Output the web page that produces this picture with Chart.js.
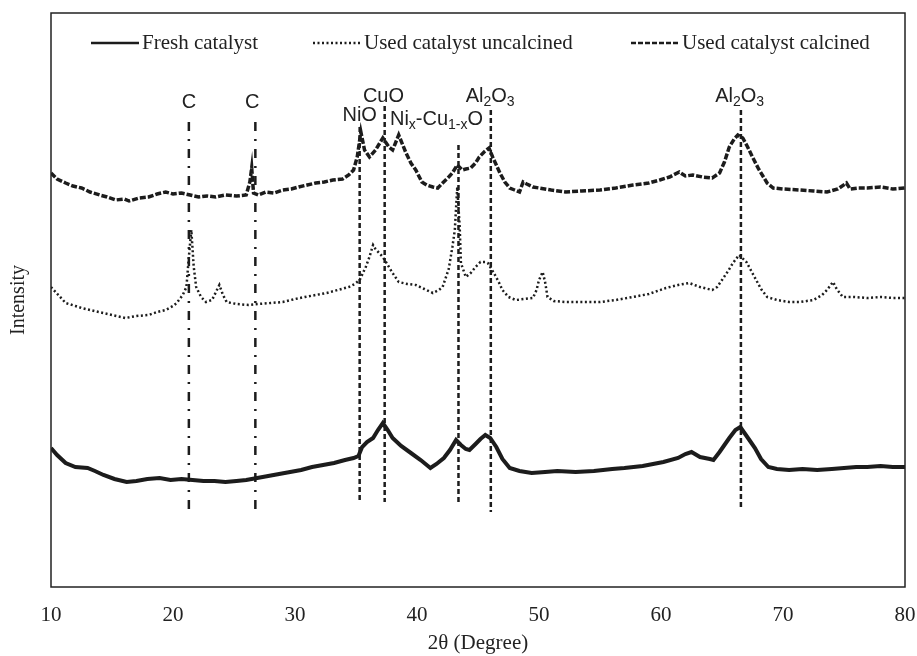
<!DOCTYPE html>
<html>
<head>
  <title>XRD patterns</title>
  <script src="https://cdn.jsdelivr.net/npm/chart.js"></script>
  <style>
    body { margin: 0; background: #fff; }
  </style>
</head>
<body>
<canvas id="xrdChart" width="917" height="656"></canvas>
<script>
  // legend names
  const seriesNames = ['Fresh catalyst', 'Used catalyst uncalcined', 'Used catalyst calcined'];

  // x axis ticks (2theta, degree)
  const xTicks = [10, 20, 30, 40, 50, 60, 70, 80];

  // fresh catalyst (bottom trace)
  const freshX = [10.0, 10.5, 11.2, 12.0, 13.0, 13.6, 14.3, 15.2, 16.2, 17.0, 17.9, 18.9, 19.8, 20.7, 21.6, 22.5, 23.4, 24.3, 25.2, 26.0,
    26.9, 27.8, 28.7, 29.6, 30.5, 31.4, 32.3, 33.2, 34.1, 34.8, 35.2, 35.5, 35.9, 36.4, 36.8, 37.2, 37.6, 38.0, 38.7, 39.5,
    40.3, 41.1, 41.6, 42.2, 42.7, 43.2, 43.6, 44.0, 44.3, 44.8, 45.2, 45.6, 46.0, 46.5, 47.0, 47.6, 48.4, 49.4, 50.5, 51.5,
    53.0, 54.5, 56.0, 57.0, 58.5, 60.2, 61.4, 62.0, 62.5, 63.2, 64.0, 64.3, 64.8, 65.2, 65.6, 66.1, 66.5, 66.9, 67.3, 67.7,
    68.2, 68.8, 69.5, 70.5, 71.6, 72.8, 74.0, 75.0, 76.0, 76.9, 78.0, 79.0, 80.0];
  const freshY = [139, 132, 124, 120, 119, 116, 112, 108, 105, 106, 108, 109, 107, 108, 107, 106, 106, 105, 106, 107,
    109, 111, 113, 115, 117, 120, 122, 124, 127, 129, 131, 140, 145, 149, 157, 164, 157, 149, 141, 134,
    127, 119, 123, 129, 137, 147, 142, 138, 137, 143, 148, 152, 149, 140, 128, 119, 116, 114, 115, 116,
    115, 116, 118, 119, 121, 125, 129, 133, 135, 130, 128, 127, 135, 142, 149, 157, 160, 153, 146, 139,
    128, 120, 118, 117, 118, 117, 118, 119, 120, 120, 121, 120, 120];

  // used catalyst uncalcined (middle trace)
  const uncalX = [10.0, 10.6, 11.2, 12.0, 12.5, 13.2, 13.9, 15.0, 16.1, 17.0, 18.0, 18.7, 19.4, 20.0, 20.3, 20.8, 21.1, 21.3, 21.5, 21.7,
    21.9, 22.3, 22.7, 23.2, 23.8, 24.1, 24.4, 25.2, 26.2, 27.0, 28.0, 29.0, 30.0, 30.8, 31.7, 32.6, 33.5, 34.4, 34.9, 35.3,
    35.8, 36.1, 36.4, 36.6, 36.9, 37.2, 37.5, 38.0, 38.5, 39.2, 39.9, 40.6, 41.3, 41.8, 42.1, 42.6, 42.9, 43.1, 43.3, 43.5,
    43.6, 44.0, 44.4, 44.8, 45.2, 45.6, 45.8, 46.3, 46.7, 47.0, 47.5, 48.1, 48.8, 49.5, 49.8, 50.0, 50.3, 50.5, 50.7, 51.2,
    52.2, 53.5, 55.0, 56.3, 57.7, 59.0, 60.4, 61.4, 62.3, 63.2, 64.2, 64.6, 65.0, 65.5, 65.9, 66.4, 67.0, 67.4, 67.8, 68.2,
    68.7, 69.5, 70.5, 71.4, 72.5, 73.2, 73.6, 74.1, 74.4, 74.9, 75.8, 76.9, 78.0, 79.0, 80.0];
  const uncalY = [300, 292, 284, 281, 279, 277, 275, 272, 269, 271, 272, 275, 277, 281, 284, 292, 300, 330, 357, 320,
    300, 290, 285, 287, 302, 292, 285, 283, 282, 283, 284, 285, 288, 290, 292, 294, 297, 300, 303, 307,
    320, 330, 342, 338, 334, 330, 324, 314, 305, 303, 302, 298, 294, 297, 300, 318, 340, 357, 400, 360,
    324, 310, 314, 320, 325, 325, 324, 314, 305, 297, 290, 287, 288, 289, 297, 307, 315, 305, 290, 286,
    285, 285, 285, 287, 290, 293, 299, 302, 304, 300, 297, 300, 307, 316, 324, 332, 325, 316, 307, 298,
    290, 287, 285, 285, 287, 292, 297, 305, 298, 290, 290, 289, 290, 289, 289];

  // used catalyst calcined (top trace)
  const calcX = [10.0, 10.5, 11.2, 11.8, 12.5, 13.2, 14.0, 14.6, 15.3, 16.0, 16.4, 17.2, 18.0, 18.7, 19.4, 20.0, 20.7, 21.4, 22.1, 22.8,
    23.5, 24.3, 25.2, 26.0, 26.3, 26.45, 26.6, 27.0, 27.6, 28.3, 29.0, 29.7, 30.3, 31.0, 31.7, 32.4, 33.1, 33.9, 34.4, 34.8,
    35.1, 35.4, 35.7, 36.1, 36.6, 37.2, 37.7, 38.0, 38.5, 39.1, 39.5, 39.9, 40.4, 40.8, 41.3, 41.7, 42.1, 42.6, 42.9, 43.3,
    43.7, 44.0, 44.4, 44.8, 45.1, 45.5, 45.9, 46.2, 46.5, 46.8, 47.2, 47.6, 48.0, 48.4, 48.7, 49.0, 49.5, 50.0, 51.0, 52.2,
    53.5, 55.0, 56.3, 57.7, 59.0, 59.9, 60.7, 61.5, 62.0, 62.6, 63.4, 64.2, 64.8, 65.2, 65.6, 66.0, 66.3, 66.7, 67.1, 67.5,
    68.0, 68.7, 69.2, 70.0, 71.4, 72.5, 73.6, 74.5, 75.2, 75.5, 76.2, 76.9, 78.0, 79.0, 80.0];
  const calcY = [414, 408, 404, 401, 399, 395, 392, 390, 387, 388, 386, 389, 390, 393, 395, 393, 394, 392, 390, 391,
    390, 392, 391, 392, 405, 419, 394, 392, 395, 394, 397, 398, 400, 402, 404, 405, 407, 408, 412, 417,
    430, 455, 437, 430, 437, 449, 440, 437, 452, 434, 424, 417, 405, 402, 400, 399, 404, 410, 414, 422,
    417, 418, 419, 424, 430, 435, 439, 430, 422, 414, 405, 399, 397, 395, 405, 403, 400, 399, 397, 395,
    396, 397, 399, 402, 404, 407, 410, 415, 411, 412, 410, 409, 414, 425, 440, 448, 452, 449, 440, 430,
    418, 404, 399, 398, 397, 396, 395, 398, 404, 398, 399, 399, 400, 398, 399];

  // reference lines for the phases
  const refX = [21.3, 26.75, 35.3, 37.35, 43.4, 46.05, 66.55];
  const refTop = [465, 465, 460, 481, 442, 477, 477];
  const refBottom = [70, 70, 85, 85, 85, 75, 79];
  const refDashDot = [true, true, false, false, false, false, false];

  // phase labels (_{..} = subscript)
  const phaseLabels = ['C', 'C', 'NiO', 'CuO', 'Ni_{x}-Cu_{1-x}O', 'Al_{2}O_{3}', 'Al_{2}O_{3}'];
  const labelX = [21.3, 26.5, 35.3, 37.25, 41.6, 46.0, 66.45];
  const labelY = [485, 485, 472, 491, 468, 491, 491];

  function toPoints(xs, ys) {
    return xs.map((x, i) => ({ x: x, y: ys[i] }));
  }

  const ink = '#1c1c1c';

  const datasets = [
    { label: seriesNames[0], data: toPoints(freshX, freshY), borderColor: ink, borderWidth: 4, borderDash: [] },
    { label: seriesNames[1], data: toPoints(uncalX, uncalY), borderColor: ink, borderWidth: 2.5, borderDash: [2, 2.5] },
    { label: seriesNames[2], data: toPoints(calcX, calcY), borderColor: ink, borderWidth: 3.5, borderDash: [6, 2] }
  ];

  refX.forEach((x, i) => {
    datasets.push({
      label: 'ref' + i,
      data: [{ x: x, y: refTop[i] }, { x: x, y: refBottom[i] }],
      borderColor: ink,
      borderWidth: 2.5,
      borderDash: refDashDot[i] ? [9, 8, 2, 8] : [5, 3]
    });
  });

  // box round the plot + legend inside it
  const framePlugin = {
    id: 'frame',
    afterDraw(chart) {
      const { ctx, chartArea: a } = chart;
      ctx.save();
      ctx.strokeStyle = '#222';
      ctx.lineWidth = 1.5;
      ctx.strokeRect(a.left, a.top, a.right - a.left, a.bottom - a.top);

      const starts = [91, 313, 631];
      const y = a.top + 30;
      ctx.font = '21px "Liberation Serif"';
      ctx.textBaseline = 'middle';
      ctx.fillStyle = '#222';
      starts.forEach((sx, i) => {
        const ds = chart.data.datasets[i];
        ctx.beginPath();
        ctx.setLineDash(i === 2 ? [5, 2] : ds.borderDash);
        ctx.lineWidth = 2.5;
        ctx.strokeStyle = ink;
        ctx.moveTo(sx, y);
        ctx.lineTo(sx + 48, y);
        ctx.stroke();
        ctx.setLineDash([]);
        ctx.fillText(ds.label, sx + 51, y);
      });
      ctx.restore();
    }
  };

  const labelPlugin = {
    id: 'phaseLabels',
    afterDatasetsDraw(chart) {
      const { ctx, scales } = chart;
      ctx.save();
      ctx.fillStyle = '#222';
      ctx.textBaseline = 'middle';
      phaseLabels.forEach((txt, i) => {
        const parts = [];
        txt.split(/(_\{[^}]*\})/).forEach(p => {
          if (!p) return;
          if (p.startsWith('_{')) parts.push({ t: p.slice(2, -1), sub: true });
          else parts.push({ t: p, sub: false });
        });
        let w = 0;
        parts.forEach(p => {
          ctx.font = p.sub ? '14px "Liberation Sans"' : '20px "Liberation Sans"';
          p.w = ctx.measureText(p.t).width;
          w += p.w;
        });
        let x = scales.x.getPixelForValue(labelX[i]) - w / 2;
        const y = scales.y.getPixelForValue(labelY[i]);
        parts.forEach(p => {
          ctx.font = p.sub ? '14px "Liberation Sans"' : '20px "Liberation Sans"';
          ctx.fillText(p.t, x, p.sub ? y + 6 : y);
          x += p.w;
        });
      });
      ctx.restore();
    }
  };

  new Chart(document.getElementById('xrdChart').getContext('2d'), {
    type: 'line',
    data: { datasets: datasets },
    options: {
      responsive: false,
      animation: false,
      layout: { padding: { left: 5, right: 12, top: 13, bottom: 0 } },
      elements: { point: { radius: 0 }, line: { tension: 0 } },
      plugins: { legend: { display: false }, tooltip: { enabled: false } },
      scales: {
        x: {
          type: 'linear',
          min: 10,
          max: 80,
          afterBuildTicks: axis => { axis.ticks = xTicks.map(v => ({ value: v })); },
          afterFit: axis => { axis.height = 69; axis.paddingLeft = 0; axis.paddingRight = 0; },
          ticks: { color: '#222', padding: 16, maxRotation: 0, font: { family: 'Liberation Serif', size: 21 } },
          grid: { display: false, drawTicks: false },
          border: { display: false },
          title: { display: true, text: '2θ (Degree)', color: '#222', padding: { top: 0, bottom: 0 }, font: { family: 'Liberation Serif', size: 21 } }
        },
        y: {
          min: 0,
          max: 574,
          ticks: { display: false },
          grid: { display: false, drawTicks: false },
          border: { display: false },
          title: { display: true, text: 'Intensity', color: '#222', padding: { top: 2, bottom: 20 }, font: { family: 'Liberation Serif', size: 20 } }
        }
      }
    },
    plugins: [framePlugin, labelPlugin]
  });
</script>
</body>
</html>
